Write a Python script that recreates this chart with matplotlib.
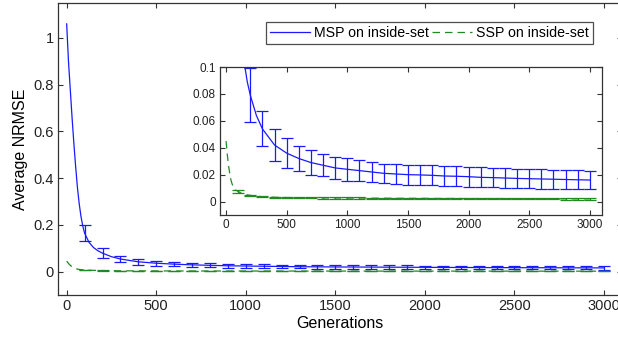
import matplotlib
matplotlib.use("Agg")
import matplotlib.pyplot as plt
import numpy as np

plt.rcParams['font.family'] = ['Liberation Sans', 'DejaVu Sans']

# ---- data ----
gens = [0, 10, 20, 30, 40, 50, 60, 70, 80, 90, 100, 125, 150, 175, 200, 250,
        300, 400, 500, 600, 700, 800, 900, 1000, 1100, 1200, 1300, 1400, 1500,
        1600, 1700, 1800, 1900, 2000, 2100, 2200, 2300, 2400, 2500, 2600, 2700,
        2800, 2900, 3000]
msp = [1.06, 0.90, 0.78, 0.66, 0.55, 0.45, 0.36, 0.29, 0.235, 0.195, 0.165,
       0.125, 0.103, 0.089, 0.079, 0.064, 0.054, 0.042, 0.036, 0.032, 0.029,
       0.027, 0.025, 0.024, 0.023, 0.022, 0.021, 0.0205, 0.020, 0.0198, 0.0195,
       0.019, 0.0188, 0.0185, 0.018, 0.0178, 0.0175, 0.0172, 0.017, 0.0168,
       0.0166, 0.0164, 0.0162, 0.016]
ssp = [0.045, 0.035, 0.027, 0.021, 0.016, 0.013, 0.011, 0.0095, 0.0085, 0.008,
       0.0075, 0.0062, 0.0055, 0.005, 0.0046, 0.004, 0.0036, 0.0032, 0.0030,
       0.0029, 0.0028, 0.0027, 0.0027, 0.0026, 0.0026, 0.0025, 0.0025, 0.0024,
       0.0024, 0.0024, 0.0023, 0.0023, 0.0023, 0.0022, 0.0022, 0.0022, 0.0022,
       0.0021, 0.0021, 0.0021, 0.0021, 0.0020, 0.0020, 0.0020]

err_gens = [100, 200, 300, 400, 500, 600, 700, 800, 900, 1000, 1100, 1200, 1300,
            1400, 1500, 1600, 1700, 1800, 1900, 2000, 2100, 2200, 2300, 2400,
            2500, 2600, 2700, 2800, 2900, 3000]
msp_err = [0.035, 0.020, 0.013, 0.012, 0.011, 0.0095, 0.009, 0.008, 0.008,
           0.0085, 0.008, 0.0075, 0.007, 0.0075, 0.0075, 0.0075, 0.0075, 0.0075,
           0.0075, 0.0075, 0.0075, 0.0072, 0.0072, 0.0072, 0.0072, 0.0072,
           0.0072, 0.007, 0.007, 0.007]
ssp_err = [0.0012, 0.0006, 0.0005, 0.0005, 0.0005, 0.0005, 0.0005, 0.0005,
           0.0005, 0.0005, 0.0005, 0.0005, 0.0005, 0.0005, 0.0005, 0.0005,
           0.0005, 0.0005, 0.0005, 0.0005, 0.0005, 0.0005, 0.0005, 0.0005,
           0.0005, 0.0005, 0.0005, 0.0005, 0.0005, 0.0005]

x_ticks = [0, 500, 1000, 1500, 2000, 2500, 3000]
main_yticks = [0, 0.2, 0.4, 0.6, 0.8, 1.0]
main_ylabels = ['0', '0.2', '0.4', '0.6', '0.8', '1']
inset_yticks = [0, 0.02, 0.04, 0.06, 0.08, 0.1]
inset_ylabels = ['0', '0.02', '0.04', '0.06', '0.08', '0.1']

BLUE = '#1a1aff'
GREEN = '#1f8a1f'

fig = plt.figure(figsize=(6.18, 3.37), dpi=100)


def mean_at(xs, ys, q):
    return np.interp(q, xs, ys)


def draw(ax, capsize):
    l1, = ax.plot(gens, msp, color=BLUE, lw=0.9, label='MSP on inside-set')
    l2, = ax.plot(gens, ssp, color=GREEN, lw=0.9, dashes=(6, 4),
                  label='SSP on inside-set')
    ax.errorbar(err_gens, mean_at(gens, msp, err_gens), yerr=msp_err, fmt='none',
                ecolor=BLUE, elinewidth=0.9, capsize=capsize, capthick=0.9)
    ax.errorbar(err_gens, mean_at(gens, ssp, err_gens), yerr=ssp_err, fmt='none',
                ecolor=GREEN, elinewidth=0.9, capsize=capsize, capthick=0.9)
    return l1, l2


def style(ax, fs):
    for s in ax.spines.values():
        s.set_color('#333333')
        s.set_linewidth(0.9)
    ax.tick_params(direction='in', top=True, right=True, length=3.5,
                   width=0.8, labelsize=fs, colors='#333333', labelcolor='#222222',
                   pad=3)


# main axes
ax = fig.add_axes([0.0934, 0.1246, 0.913, 0.867])
l1, l2 = draw(ax, 4.5)
ax.set_xlim(-50, 3100)
ax.set_ylim(-0.1, 1.15)
ax.set_xticks(x_ticks)
ax.set_yticks(main_yticks)
ax.set_yticklabels(main_ylabels)
style(ax, 10.5)
ax.set_xlabel('Generations', fontsize=11.5, labelpad=2)
ax.set_ylabel('Average NRMSE', fontsize=11.5, labelpad=4)

# inset axes
ins = fig.add_axes([0.356, 0.362, 0.618, 0.439])
draw(ins, 4)
ins.set_xlim(-50, 3100)
ins.set_ylim(-0.01, 0.1)
ins.set_xticks(x_ticks)
ins.set_yticks(inset_yticks)
ins.set_yticklabels(inset_ylabels)
style(ins, 8.5)

leg = fig.legend([l1, l2], ['MSP on inside-set', 'SSP on inside-set'],
                 loc='upper right', bbox_to_anchor=(0.9595, 0.935), ncol=2,
                 fontsize=10.2, frameon=True, fancybox=False, handlelength=2.8,
                 columnspacing=0.2, handletextpad=0.3, borderpad=0.3,
                 borderaxespad=0)
leg.get_frame().set_edgecolor('#222222')
leg.get_frame().set_linewidth(0.9)

fig.savefig('out.png', dpi=100)
